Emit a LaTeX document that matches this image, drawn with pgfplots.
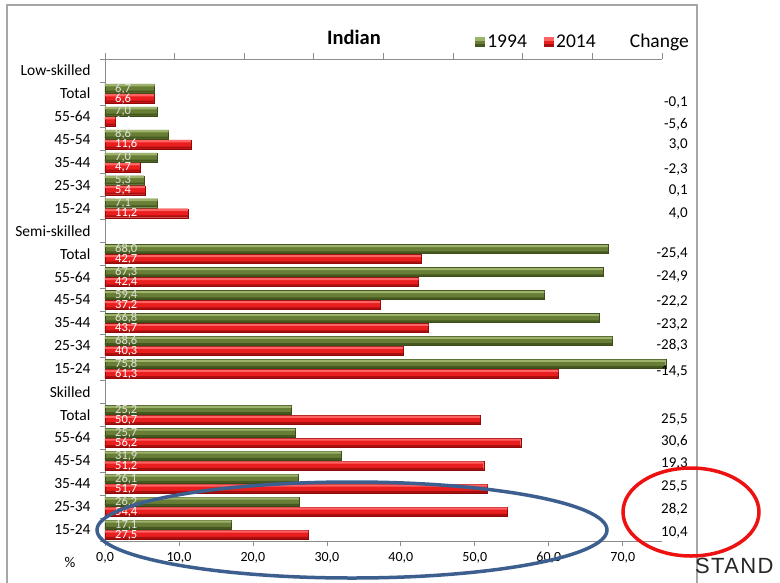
\documentclass[border=0pt]{standalone}
\usepackage{pgfplots}
\usepackage{pgfplotstable}
\pgfplotsset{compat=1.18}
\usepackage{fontspec}
\setmainfont{Carlito}
\newfontfamily\standfont{Liberation Sans}[LetterSpace=6]
\definecolor{gTop}{HTML}{9DB36B}
\definecolor{gMid}{HTML}{687E37}
\definecolor{gBot}{HTML}{45581F}
\definecolor{gEdge}{HTML}{3A4A1A}
\definecolor{rTop}{HTML}{FF6464}
\definecolor{rMid}{HTML}{EA1E1E}
\definecolor{rBot}{HTML}{A80F0F}
\definecolor{rEdge}{HTML}{900808}
\definecolor{axgray}{HTML}{8C8C8C}
\definecolor{framegray}{HTML}{A6A6A6}
\definecolor{ellblue}{HTML}{3D5F8F}
\definecolor{ellred}{HTML}{EE1111}

\pgfplotstableread{
y  v1994 v2014
19 6.7  6.6
18 7.0  1.4
17 8.6  11.6
16 7.0  4.7
15 5.3  5.4
14 7.1  11.2
12 68.0 42.7
11 67.3 42.4
10 59.4 37.2
9  66.8 43.7
8  68.6 40.3
7  75.8 61.3
5  25.2 50.7
4  25.7 56.2
3  31.9 51.2
2  26.1 51.7
1  26.2 54.4
0  17.1 27.5
}\datatable

\pgfplotstableread{
x    y     lab
78.8 18.62 -0,1
78.8 17.65 -5,6
78.8 16.78 3,0
78.8 15.69 -2,3
78.8 14.77 0,1
78.8 13.77 4,0
78.8 12.03 -25,4
78.8 11.03 -24,9
78.8 9.94  -22,2
78.8 8.94  -23,2
78.8 8.03  -28,3
78.8 6.90  -14,5
78.8 4.77  25,5
78.8 3.85  30,6
78.8 2.89  19,3
78.8 1.89  25,5
78.8 0.89  28,2
78.8 -0.15 10,4
}\changetable

\pgfplotsset{
  barlabel/.style n args={2}{xbar, bar width=9pt, bar shift=#1, draw=none, fill=none, forget plot,
    point meta=x,
    nodes near coords={\pgfmathprintnumber[fixed,fixed zerofill,precision=1,use comma]{\pgfplotspointmeta}},
    visualization depends on={x \as \rawx},
    every node near coord/.append style={shift={(axis direction cs:-\rawx,0)}, yshift=#1, anchor=west, xshift=10pt, text=#2, font=\fontsize{12.5}{13}\selectfont, inner sep=0pt, text height=7.6pt, text depth=0.4pt}},
}

\begin{document}
\begin{tikzpicture}
\useasboundingbox (0pt,0pt) rectangle (780pt,-582pt);
\draw[framegray, line width=1.2pt] (7pt,-600pt) -- (7pt,-5pt) -- (697pt,-5pt) -- (697pt,-600pt);

\node[font=\fontsize{20.5}{22}\selectfont\bfseries] at (354pt,-37pt) {Indian};
\node[font=\fontsize{19.5}{21}\selectfont, anchor=east, inner sep=0pt] at (689pt,-42pt) {Change};
\node[font=\fontsize{15}{17}\selectfont, inner sep=0pt] at (70pt,-562pt) {\%};

% top secondary axis (ticks only)
\begin{axis}[
  at={(105pt,-541pt)}, anchor=south west,
  scale only axis, width=557pt, height=482pt,
  xmin=0, xmax=80, ymin=0, ymax=1,
  axis x line*=top, axis y line=none,
  axis line style={axgray, line width=0.8pt},
  tick align=outside, major tick length=6pt,
  tick style={axgray, line width=0.8pt},
  xtick={0,10,...,80}, xticklabels={},
]
\addplot[draw=none] coordinates {(0,0)};
\end{axis}

\begin{axis}[
  at={(105pt,-541pt)}, anchor=south west,
  scale only axis, width=557pt, height=482pt,
  xmin=0, xmax=75.3, ymin=-0.5, ymax=20.5,
  axis x line*=bottom, axis y line*=left,
  axis line style={axgray, line width=0.8pt},
  clip=false,
  tick align=outside, major tick length=5pt,
  tick style={axgray, line width=0.8pt},
  /pgf/number format/assume math mode=true,
  xtick={0,10,...,70},
  xticklabel style={font=\fontsize{14}{16}\selectfont, yshift=-3pt,
    /pgf/number format/.cd, fixed, fixed zerofill, precision=1, use comma},
  ytick={-0.5,0.5,...,20.5}, yticklabel={\mbox{}},
  extra y ticks={0,1,...,20},
  extra y tick labels={15-24,25-34,35-44,45-54,55-64,Total,Skilled,15-24,25-34,35-44,45-54,55-64,Total,Semi-skilled,15-24,25-34,35-44,45-54,55-64,Total,Low-skilled},
  extra y tick style={tick style={draw=none},
    yticklabel style={font=\fontsize{15.5}{17}\selectfont, anchor=east, xshift=-6pt}},
  legend style={at={(0.664,1.035)}, anchor=west, draw=none, fill=none,
    legend columns=2, inner sep=0pt, font=\fontsize{19.5}{21}\selectfont,
    nodes={inner xsep=3pt},
    /tikz/every even column/.append style={column sep=14pt}},
]
% 1994 bars
\addplot[xbar, bar width=9pt, bar shift=5pt, fill=gMid, draw=gEdge, line width=0.3pt,
  legend image code/.code={\fill[gMid] (0pt,-4.5pt) rectangle (9pt,4.5pt);
    \fill[gTop] (0pt,2pt) rectangle (9pt,4.5pt);
    \fill[gBot] (0pt,-4.5pt) rectangle (9pt,-2.5pt);}]
  table[x=v1994, y=y] {\datatable};
\addlegendentry{1994}
\addplot[xbar, bar width=2.2pt, bar shift=8.1pt, fill=gTop, draw=none, forget plot]
  table[x=v1994, y=y] {\datatable};
\addplot[xbar, bar width=2pt, bar shift=1.7pt, fill=gBot, draw=none, forget plot]
  table[x=v1994, y=y] {\datatable};
% 2014 bars
\addplot[xbar, bar width=9pt, bar shift=-5pt, fill=rMid, draw=rEdge, line width=0.3pt,
  legend image code/.code={\fill[rMid] (0pt,-4.5pt) rectangle (9pt,4.5pt);
    \fill[rTop] (0pt,2pt) rectangle (9pt,4.5pt);
    \fill[rBot] (0pt,-4.5pt) rectangle (9pt,-2.5pt);}]
  table[x=v2014, y=y] {\datatable};
\addlegendentry{2014}
\addplot[xbar, bar width=2.2pt, bar shift=-1.9pt, fill=rTop, draw=none, forget plot]
  table[x=v2014, y=y] {\datatable};
\addplot[xbar, bar width=2pt, bar shift=-8.3pt, fill=rBot, draw=none, forget plot]
  table[x=v2014, y=y] {\datatable};
% value labels at the bar bases
\addplot[barlabel={5pt}{black!12}] table[x=v1994, y=y] {\datatable};
\addplot[barlabel={-5pt}{white}] table[x=v2014, y=y] {\datatable};
% change column
\addplot[draw=none, mark=none, forget plot, point meta=explicit symbolic, nodes near coords,
  every node near coord/.style={anchor=east, font=\fontsize{15}{17}\selectfont, text=black, inner sep=0pt},
] table[x=x, y=y, meta=lab] {\changetable};
\end{axis}

\draw[ellblue, line width=3.5pt] (352pt,-530pt) ellipse [x radius=255pt, y radius=48pt];
\draw[ellred, line width=3.5pt] (691pt,-512pt) ellipse [x radius=68pt, y radius=44pt];
\node[font=\standfont\fontsize{22}{24}\selectfont, anchor=base west, inner sep=0pt, text=black!85] at (695pt,-573pt) {STAND};
\end{tikzpicture}
\end{document}
